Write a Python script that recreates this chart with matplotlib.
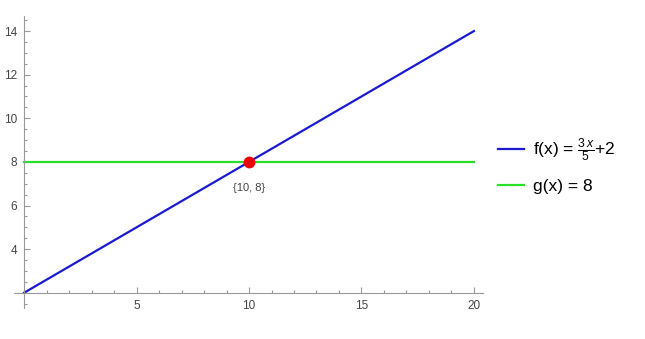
import matplotlib.pyplot as plt
from matplotlib.ticker import MultipleLocator

plt.rcParams['font.family'] = ['Liberation Sans', 'DejaVu Sans']
plt.rcParams['mathtext.fontset'] = 'custom'
plt.rcParams['mathtext.rm'] = 'Liberation Sans'
plt.rcParams['mathtext.it'] = 'Liberation Sans:italic'

# line end points and the crossing point
xs = [0, 20]
f_vals = [2, 14]
g_vals = [8, 8]
cross_x = [10]
cross_y = [8]
cross_text = '{10, 8}'
x_ticks = [5, 10, 15, 20]
y_ticks = [4, 6, 8, 10, 12, 14]

axis_gray = '#999999'
text_gray = '#444444'

fig = plt.figure(figsize=(6.45, 3.39), dpi=100)
ax = fig.add_axes([0.0217, 0.0914, 0.727, 0.862])

l1, = ax.plot(xs, f_vals, color='#1a1ad0', lw=1.6, label=r'f(x) = $\frac{3\,x}{5}$+2')
l2, = ax.plot(xs, g_vals, color='#2adf2a', lw=1.6, label='g(x) = 8')
ax.plot(cross_x, cross_y, 'o', color='#ee0000', ms=7.5, zorder=5)
ax.annotate(cross_text, (cross_x[0], cross_y[0]), xytext=(0, -15), textcoords='offset points',
            ha='center', va='top', fontsize=8, color=text_gray)

ax.set_xlim(-0.45, 20.4)
ax.set_ylim(1.3, 14.7)

for s in ['top', 'right']:
    ax.spines[s].set_visible(False)
ax.spines['left'].set_position(('data', 0))
ax.spines['bottom'].set_position(('data', 2))
for s in ['left', 'bottom']:
    ax.spines[s].set_color(axis_gray)
    ax.spines[s].set_linewidth(0.8)

ax.set_xticks(x_ticks)
ax.set_yticks(y_ticks)
ax.xaxis.set_minor_locator(MultipleLocator(1))
ax.yaxis.set_minor_locator(MultipleLocator(0.5))
ax.tick_params(which='both', direction='in', color=axis_gray, width=0.8,
               labelsize=8.5, labelcolor=text_gray)
ax.tick_params(which='major', length=4.5, pad=5)
ax.tick_params(which='minor', length=2.5)
ax.set_facecolor('none')

fig.legend(handles=[l1, l2], loc='upper left', bbox_to_anchor=(0.748, 0.642),
           frameon=False, fontsize=12.5, handlelength=1.5, handletextpad=0.5,
           labelspacing=0.85)

fig.savefig('out.png', dpi=100)
